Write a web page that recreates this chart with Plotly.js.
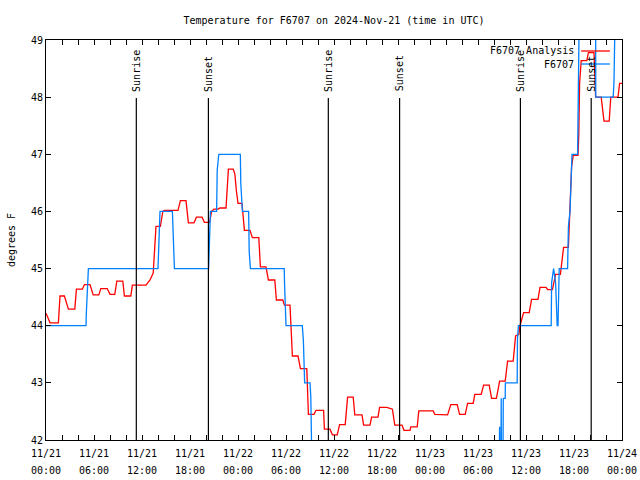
<!DOCTYPE html>
<html>
<head>
<meta charset="utf-8">
<script src="https://cdn.plot.ly/plotly-3.0.1.min.js"></script>
<style>html,body{margin:0;padding:0;background:#fff;}#chart{width:640px;height:480px;}</style>
</head>
<body>
<div id="chart"></div>
<script>
// Hours since 2024-11-21 00:00 UTC
const analysisHours = [0,0.3,0.5,1.55,1.75,2.3,2.8,3.6,3.8,4.55,4.8,5.5,5.9,6.6,6.85,7.65,8.0,8.6,8.85,9.6,9.8,10.6,10.8,12.5,13.0,13.4,13.6,13.75,14.3,14.6,14.8,16.5,16.8,17.5,17.8,18.5,18.8,19.5,19.8,20.45,20.7,21.0,21.5,21.75,22.5,22.8,23.4,23.6,23.8,24.0,24.5,24.6,24.8,25.5,25.8,26.6,26.8,27.5,27.8,28.6,28.8,29.6,29.8,30.5,30.8,31.5,31.8,32.6,32.8,33.5,33.75,34.7,34.8,35.5,35.8,36.4,36.7,37.4,37.7,38.4,38.6,39.5,39.7,40.5,40.7,41.5,41.7,42.6,43.3,43.6,44.5,44.75,45.5,45.6,46.4,46.6,48.4,48.6,49.7,50.2,50.6,51.4,51.7,52.4,52.7,53.4,53.6,54.4,54.7,55.4,55.7,56.3,56.7,57.4,57.7,58.4,58.7,59.1,59.25,59.7,60.4,60.7,61.5,61.75,62.5,62.7,63.3,63.7,64.3,64.7,65.3,65.5,65.7,65.9,66.5,66.6,66.7,66.9,67.6,67.8,68.5,68.7,69.4,69.75,70.4,70.6,71.5,71.7,72];
const analysisTemps = [44.22,44.12,44.05,44.05,44.52,44.52,44.29,44.29,44.64,44.64,44.72,44.72,44.54,44.54,44.65,44.65,44.55,44.55,44.78,44.78,44.52,44.52,44.71,44.71,44.8,44.92,45.53,45.74,45.74,46.0,46.02,46.02,46.19,46.19,45.8,45.8,45.9,45.9,45.81,45.81,46.0,46.04,46.04,46.06,46.06,46.74,46.74,46.66,46.36,46.14,46.14,46.0,45.67,45.67,45.54,45.54,45.03,45.03,44.8,44.8,44.45,44.45,44.36,44.36,43.47,43.47,43.25,43.25,42.45,42.45,42.52,42.52,42.19,42.19,42.09,42.09,42.27,42.27,42.75,42.75,42.44,42.44,42.26,42.26,42.4,42.4,42.57,42.57,42.54,42.26,42.26,42.17,42.17,42.23,42.23,42.51,42.51,42.45,42.45,42.44,42.62,42.62,42.45,42.45,42.64,42.64,42.8,42.8,42.96,42.96,42.73,42.73,43.03,43.03,43.38,43.38,43.82,43.85,44.0,44.23,44.23,44.46,44.46,44.67,44.67,44.63,44.63,44.9,44.9,45.37,45.37,46.0,46.78,46.98,46.98,47.35,48.24,48.64,48.64,48.78,48.78,48.0,48.0,47.58,47.58,48.0,48.0,48.24,48.24];

const obsHours = [0,5.0,5.05,5.3,14.0,14.05,14.25,15.8,15.85,15.95,16.05,20.33,20.38,20.45,20.55,21.33,21.4,21.6,24.29,24.35,24.55,25.33,25.4,25.55,29.78,29.82,30.0,32.04,32.17,32.33,33.0,33.1,33.3,56.6,56.7,56.75,56.85,56.9,56.95,57.1,57.16,57.4,57.42,58.9,58.93,59.05,63.15,63.2,63.45,63.7,63.9,64.0,64.15,65.2,65.3,65.5,65.75,66.45,66.55,66.7,68.7,68.72,70.9,71.0,71.2,72];
const obsTemps = [44,44,44.25,45,45,45.27,46,46,45.74,45.25,45,45,45.27,45.74,46,46,46.72,47,47,46.49,46,46,45.3,45,45,44.74,44,44,43.75,43,43,42.76,41,41,42.23,41,41,42.73,41,41,42.73,42.73,43,43,43.75,44,44,44.75,45,44.75,44,44,45,45,45.73,46,47,47,48.6,50,50,48,48,48.27,50,50];

const sunHours = [11.29, 20.3, 35.29, 44.2, 59.3, 68.15];
const sunLabels = ["Sunrise","Sunset","Sunrise","Sunset","Sunrise","Sunset"];

const xTickVals = [0,6,12,18,24,30,36,42,48,54,60,66,72];
const xTickDates = ["11/21","11/21","11/21","11/21","11/22","11/22","11/22","11/22","11/23","11/23","11/23","11/23","11/24"];
const xTickTimes = ["00:00","06:00","12:00","18:00","00:00","06:00","12:00","18:00","00:00","06:00","12:00","18:00","00:00"];
const yTickVals = [42,43,44,45,46,47,48,49];

const seriesNames = ["F6707 Analysis", "F6707"];
const seriesColors = ["#ff0000", "#0080ff"];

const FONT = "DejaVu Sans Mono";
const txtFont = {family: FONT, size: 10, color: "#000"};

const traces = [
  {x: analysisHours, y: analysisTemps, mode: "lines", name: seriesNames[0],
   line: {color: seriesColors[0], width: 1.3}, showlegend: false, hoverinfo: "skip"},
  {x: obsHours, y: obsTemps, mode: "lines", name: seriesNames[1],
   line: {color: seriesColors[1], width: 1.3}, showlegend: false, hoverinfo: "skip"}
];

const shapes = sunHours.map(h => ({
  type: "line", xref: "x", yref: "paper", x0: h, x1: h, y0: 0, y1: 0.855,
  line: {color: "#000", width: 1.2}
}));
const annotations = sunHours.map((h, i) => ({
  xref: "x", yref: "paper", x: h, y: 0.866, text: sunLabels[i], textangle: -90,
  showarrow: false, xanchor: "center", yanchor: "bottom", font: txtFont
}));

// two-row x tick labels
xTickVals.forEach((v, i) => {
  annotations.push({xref: "x", yref: "paper", x: v, y: -0.0325, text: xTickDates[i],
    showarrow: false, xanchor: "center", yanchor: "middle", font: txtFont});
  annotations.push({xref: "x", yref: "paper", x: v, y: -0.075, text: xTickTimes[i],
    showarrow: false, xanchor: "center", yanchor: "middle", font: txtFont});
});

// key (text left, sample line right)
const keyY = [0.9725, 0.94];
seriesNames.forEach((n, i) => {
  annotations.push({xref: "paper", yref: "paper", x: 0.92, y: keyY[i], text: n,
    showarrow: false, xanchor: "right", yanchor: "middle", font: txtFont});
  shapes.push({type: "line", xref: "paper", yref: "paper", x0: 0.929, x1: 0.979,
    y0: keyY[i], y1: keyY[i], line: {color: seriesColors[i], width: 1.3}});
});

const axisCommon = {
  showgrid: false, zeroline: false, showline: true, linecolor: "#000", linewidth: 1,
  mirror: "ticks", ticks: "inside", ticklen: 5, tickcolor: "#000", tickwidth: 1,
  tickfont: txtFont
};

const layout = {
  width: 640, height: 480,
  margin: {l: 46, r: 18, t: 40, b: 40},
  paper_bgcolor: "#fff", plot_bgcolor: "#fff",
  title: {text: "Temperature for F6707 on 2024-Nov-21 (time in UTC)", font: txtFont,
          xref: "paper", x: 0.5, xanchor: "center", yref: "container", y: 0.958, yanchor: "middle"},
  xaxis: Object.assign({}, axisCommon, {
    range: [0, 72], tickmode: "array", tickvals: xTickVals, showticklabels: false,
    minor: {dtick: 2, tick0: 0, ticks: "inside", ticklen: 5, tickcolor: "#000"}
  }),
  yaxis: Object.assign({}, axisCommon, {
    range: [42, 49], tickmode: "array", tickvals: yTickVals, ticktext: yTickVals.map(String),
    title: {text: "degrees F", font: txtFont, standoff: 13}
  }),
  shapes: shapes,
  annotations: annotations,
  showlegend: false
};

Plotly.newPlot("chart", traces, layout, {staticPlot: true, displayModeBar: false});
</script>
</body>
</html>
